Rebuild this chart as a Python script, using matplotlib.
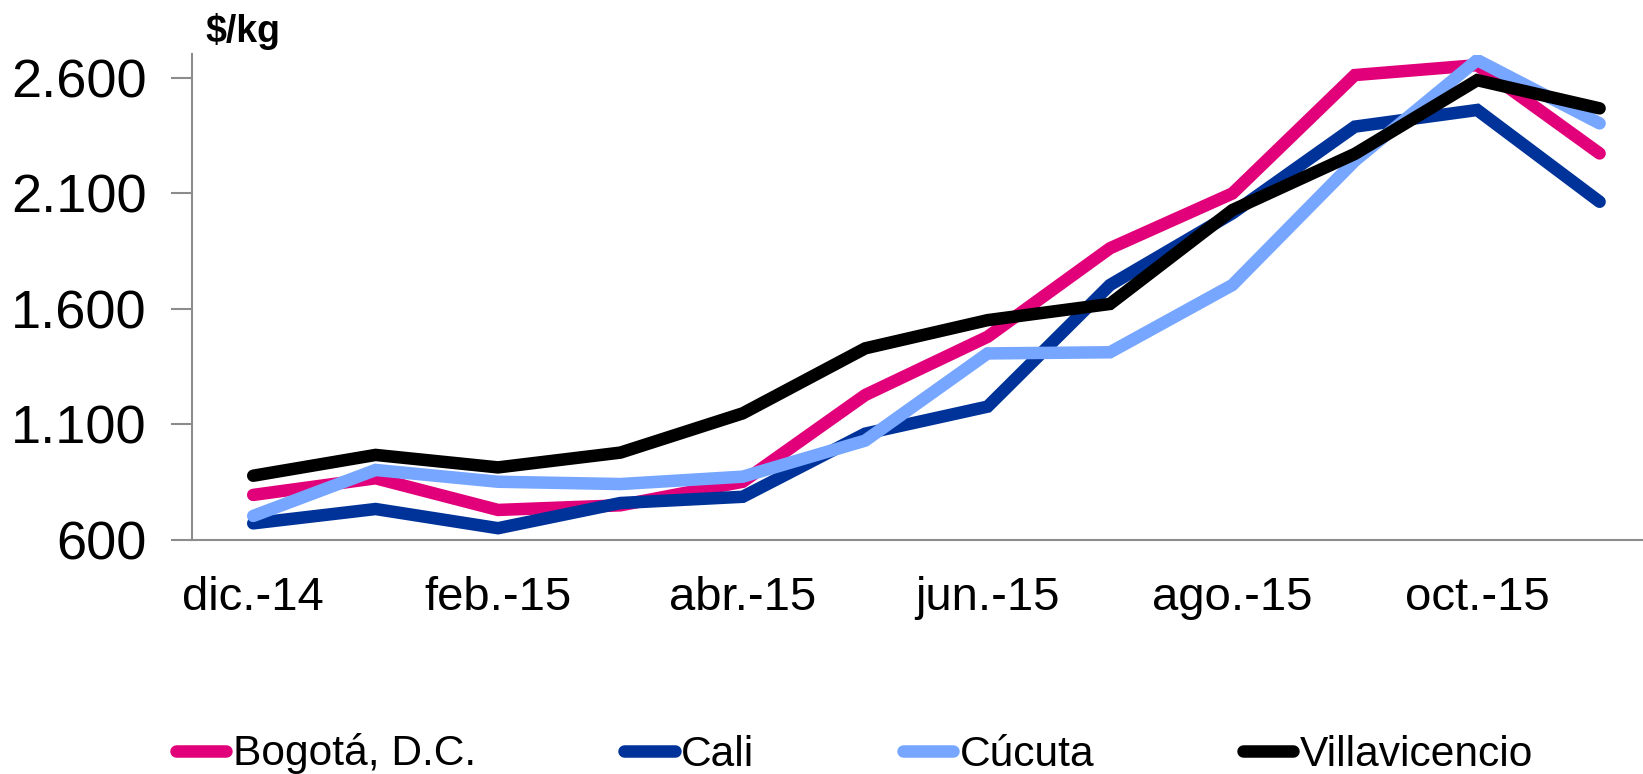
import matplotlib
matplotlib.use("Agg")
import matplotlib.pyplot as plt
from matplotlib.lines import Line2D

months = ["dic.-14", "ene.-15", "feb.-15", "mar.-15", "abr.-15", "may.-15",
          "jun.-15", "jul.-15", "ago.-15", "sep.-15", "oct.-15", "nov.-15"]
bogota = [795, 867, 730, 750, 852, 1227, 1479, 1862, 2099, 2611, 2654, 2272]
cali = [672, 734, 651, 760, 787, 1060, 1177, 1703, 2013, 2388, 2460, 2063]
cucuta = [704, 903, 852, 842, 874, 1030, 1407, 1412, 1703, 2240, 2676, 2402]
villavicencio = [878, 968, 914, 978, 1148, 1429, 1551, 1621, 2027, 2270, 2589, 2467]
series_names = ["Bogotá, D.C.", "Cali", "Cúcuta", "Villavicencio"]
y_ticks = [600, 1100, 1600, 2100, 2600]
y_tick_labels = ["600", "1.100", "1.600", "2.100", "2.600"]

colors = ["#E2007A", "#003399", "#76A6FF", "#000000"]

plt.rcParams['font.family'] = ['Liberation Sans', 'DejaVu Sans']

fig = plt.figure(figsize=(16.43, 7.74), dpi=100)
ax = fig.add_axes([192/1643, (774-540)/774, 1468.8/1643, (540-54.5)/774])

x = list(range(len(months)))
for vals, c in zip([bogota, cali, cucuta, villavicencio], colors):
    ax.plot(x, vals, color=c, lw=9, solid_capstyle='round', solid_joinstyle='miter')

ax.set_xlim(-0.5, len(months) - 0.5)
ax.set_ylim(600, 2700)
ax.set_yticks(y_ticks)
ax.set_yticklabels(y_tick_labels, fontsize=39)
ax.set_xticks(x[::2])
ax.set_xticklabels(months[::2], fontsize=34)
ax.tick_params(axis='x', length=0, pad=26)
ax.tick_params(axis='y', length=15, width=1.5, color='#8C8C8C', pad=17.5)
for s in ['top', 'right']:
    ax.spines[s].set_visible(False)
for s in ['left', 'bottom']:
    ax.spines[s].set_color('#8C8C8C')
    ax.spines[s].set_linewidth(1.5)
ax.spines['left'].set_zorder(0)

fig.text(205/1643, 1 - 42/774, "$/kg", fontsize=27, fontweight='bold', ha='left', va='baseline')

handles = [Line2D([0], [0], color=c, lw=9, solid_capstyle='round') for c in colors]
fig.legend(handles, series_names, loc='center left', bbox_to_anchor=(176/1643, 1 - 754/774),
           ncol=4, frameon=False, fontsize=30.6, handlelength=1.18, handletextpad=0.15,
           columnspacing=3.5, borderpad=0, borderaxespad=0)

fig.savefig("out.png", dpi=100)
